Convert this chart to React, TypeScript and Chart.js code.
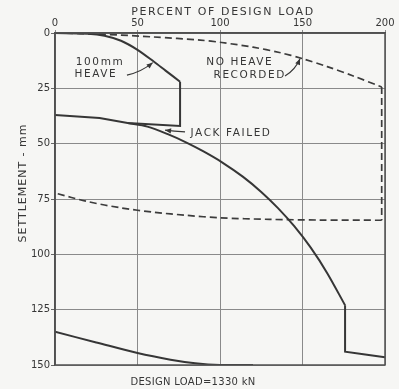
import React, { useEffect, useRef } from 'react';
import { Chart, registerables } from 'chart.js';

Chart.register(...registerables);

// ---- Axis ticks ----
const xTickValues = [0, 50, 100, 150, 200];
const yTickValues = [0, 25, 50, 75, 100, 125, 150];

// ---- 100 mm heave: loading curve ----
const heaveLoadX = [0, 20, 30, 40, 50, 60, 67, 75.8];
const heaveLoadY = [0, 0.3, 1.2, 3.5, 7.6, 13, 17, 22];
// ---- 100 mm heave: jack failure drop and unloading ----
const heaveUnloadX = [75.8, 75.8, 44, 27, 0];
const heaveUnloadY = [22, 42, 40.7, 38.4, 37];

// ---- Reloading curve after jack failure ----
const reloadX = [44, 56, 68, 80, 90, 101, 114, 125, 135, 145, 155, 165, 175.8];
const reloadY = [40.7, 42.3, 45.6, 49.6, 53.5, 58.3, 65, 71.8, 79, 87.3, 97, 108.5, 123];
// ---- Final drop and end segment ----
const finalX = [175.8, 175.8, 188, 200];
const finalY = [123, 144, 145.3, 146.5];

// ---- No heave recorded (dashed): loading ----
const noHeaveLoadX = [0, 30, 60, 88, 101, 120, 136, 150, 165, 180, 198];
const noHeaveLoadY = [0, 0.6, 1.8, 3.2, 4.3, 6.4, 8.8, 11.6, 15.2, 19.2, 24.4];
// ---- No heave recorded (dashed): drop ----
const noHeaveDropX = [198, 198];
const noHeaveDropY = [24.4, 84.6];
// ---- No heave recorded (dashed): unloading ----
const noHeaveUnloadX = [198, 160, 130, 100, 80, 60, 40, 20, 0];
const noHeaveUnloadY = [84.6, 84.5, 84.2, 83.5, 82.4, 81, 79, 76.2, 72.3];

// ---- Lower solid curve ----
const lowerX = [0, 25, 50, 70, 85, 100, 120];
const lowerY = [135, 139.8, 144.6, 147.6, 149.2, 150, 150];

// ---- Annotations (data units) ----
const noteTexts = ['100mm', 'HEAVE', 'NO HEAVE', 'RECORDED', 'JACK FAILED'];
const noteX = [27.3, 24.8, 112, 118, 106.7];
const noteY = [13.1, 18.5, 13.1, 19, 45.2];

const arrow1X = [43.6, 52, 59.2];
const arrow1Y = [19, 17.8, 13.4];
const arrow2X = [139.4, 145.5, 148.5];
const arrow2Y = [19.4, 16.7, 11.6];
const arrow3X = [78.8, 72, 66.7];
const arrow3Y = [44.7, 44.4, 43.9];

const xTitle = 'PERCENT OF DESIGN LOAD';
const yTitle = 'SETTLEMENT - mm';
const bottomTitle = 'DESIGN LOAD=1330 kN';

const zip = (xs: number[], ys: number[]) => xs.map((x, i) => ({ x, y: ys[i] }));

const INK = '#363636';
const BG = '#f6f6f4';
const FONT = "'DejaVu Sans', sans-serif";

export default function App() {
  const ref = useRef<HTMLCanvasElement | null>(null);

  useEffect(() => {
    if (!ref.current) return;

    const drawArrow = (ctx: CanvasRenderingContext2D, chart: any, xs: number[], ys: number[]) => {
      const sx = chart.scales.x;
      const sy = chart.scales.y;
      const pts = xs.map((x, i) => [sx.getPixelForValue(x), sy.getPixelForValue(ys[i])]);
      ctx.save();
      ctx.strokeStyle = INK;
      ctx.fillStyle = INK;
      ctx.lineWidth = 1.2;
      ctx.beginPath();
      ctx.moveTo(pts[0][0], pts[0][1]);
      ctx.quadraticCurveTo(pts[1][0], pts[1][1], pts[2][0], pts[2][1]);
      ctx.stroke();
      const e = pts[pts.length - 1];
      const p = pts[pts.length - 2];
      const ang = Math.atan2(e[1] - p[1], e[0] - p[0]);
      const L = 6, W = 2.6;
      ctx.beginPath();
      ctx.moveTo(e[0], e[1]);
      ctx.lineTo(e[0] - L * Math.cos(ang) + W * Math.sin(ang), e[1] - L * Math.sin(ang) - W * Math.cos(ang));
      ctx.lineTo(e[0] - L * Math.cos(ang) - W * Math.sin(ang), e[1] - L * Math.sin(ang) + W * Math.cos(ang));
      ctx.closePath();
      ctx.fill();
      ctx.restore();
    };

    const overlay = {
      id: 'overlay',
      beforeDraw(chart: any) {
        const ctx = chart.ctx;
        ctx.save();
        ctx.fillStyle = BG;
        ctx.fillRect(0, 0, chart.width, chart.height);
        ctx.restore();
      },
      afterDraw(chart: any) {
        const ctx: CanvasRenderingContext2D = chart.ctx;
        const a = chart.chartArea;
        const sx = chart.scales.x;
        const sy = chart.scales.y;
        ctx.save();
        ctx.strokeStyle = '#505050';
        ctx.lineWidth = 1.5;
        ctx.strokeRect(a.left, a.top, a.right - a.left, a.bottom - a.top);

        ctx.fillStyle = INK;
        ctx.textAlign = 'center';
        ctx.textBaseline = 'middle';
        (ctx as any).letterSpacing = '1.6px';
        ctx.font = `11px ${FONT}`;
        ctx.fillText(xTitle, (a.left + a.right) / 2 + 3, a.top - 21);
        ctx.save();
        (ctx as any).letterSpacing = '1px';
        ctx.translate(a.left - 32, a.top + 150);
        ctx.rotate(-Math.PI / 2);
        ctx.fillText(yTitle, 0, 0);
        ctx.restore();
        (ctx as any).letterSpacing = '0.3px';
        ctx.font = `10px ${FONT}`;
        ctx.fillText(bottomTitle, a.left + 138, a.bottom + 17);

        (ctx as any).letterSpacing = '1.6px';
        ctx.font = `10.5px ${FONT}`;
        noteTexts.forEach((t, i) => {
          ctx.fillText(t, sx.getPixelForValue(noteX[i]), sy.getPixelForValue(noteY[i]));
        });
        (ctx as any).letterSpacing = '0px';
        ctx.restore();

        drawArrow(ctx, chart, arrow1X, arrow1Y);
        drawArrow(ctx, chart, arrow2X, arrow2Y);
        drawArrow(ctx, chart, arrow3X, arrow3Y);
      },
    };

    const solid = { borderColor: INK, borderWidth: 2, pointRadius: 0, showLine: true, fill: false, tension: 0 };
    const curved = { ...solid, tension: 0.3 };
    const dashed = { borderWidth: 1.7, borderColor: '#3c3c3c', borderDash: [7, 4] };

    const chart = new Chart(ref.current, {
      type: 'scatter',
      data: {
        datasets: [
          { ...curved, label: '100 mm heave', data: zip(heaveLoadX, heaveLoadY) },
          { ...solid, label: '100 mm heave unload', data: zip(heaveUnloadX, heaveUnloadY) },
          { ...curved, label: 'reload', data: zip(reloadX, reloadY) },
          { ...solid, label: 'final', data: zip(finalX, finalY) },
          { ...curved, label: 'lower', data: zip(lowerX, lowerY) },
          { ...curved, ...dashed, label: 'no heave recorded', data: zip(noHeaveLoadX, noHeaveLoadY) },
          { ...solid, ...dashed, label: 'no heave drop', data: zip(noHeaveDropX, noHeaveDropY) },
          { ...curved, ...dashed, label: 'no heave unload', data: zip(noHeaveUnloadX, noHeaveUnloadY) },
        ],
      },
      options: {
        animation: false,
        responsive: false,
        devicePixelRatio: 1,
        layout: { padding: { left: 0, right: 14, top: 0, bottom: 24 } },
        plugins: { legend: { display: false }, tooltip: { enabled: false }, title: { display: false } },
        scales: {
          x: {
            type: 'linear',
            position: 'top',
            min: 0,
            max: 200,
            afterBuildTicks: (s: any) => {
              s.ticks = xTickValues.map((v) => ({ value: v }));
            },
            afterFit: (s: any) => {
              s.height = 33;
            },
            ticks: { color: INK, font: { family: FONT, size: 10 }, padding: 1, maxRotation: 0 },
            grid: { color: '#8a8a8a', lineWidth: 1, tickLength: 3, tickColor: '#8a8a8a' },
            border: { display: true, color: '#505050', width: 1.5 },
          },
          y: {
            type: 'linear',
            reverse: true,
            min: 0,
            max: 150,
            afterBuildTicks: (s: any) => {
              s.ticks = yTickValues.map((v) => ({ value: v }));
            },
            afterFit: (s: any) => {
              s.width = 55;
            },
            ticks: { color: INK, font: { family: FONT, size: 10 }, padding: 1 },
            grid: { color: '#8a8a8a', lineWidth: 1, tickLength: 4, tickColor: '#666' },
            border: { display: true, color: '#505050', width: 1.5 },
          },
        },
      },
      plugins: [overlay],
    } as any);

    return () => chart.destroy();
  }, []);

  return (
    <div style={{ position: 'fixed', left: 0, top: 0, width: 399, height: 389, background: BG }}>
      <canvas ref={ref} width={399} height={389} style={{ width: 399, height: 389, display: 'block' }} />
    </div>
  );
}
